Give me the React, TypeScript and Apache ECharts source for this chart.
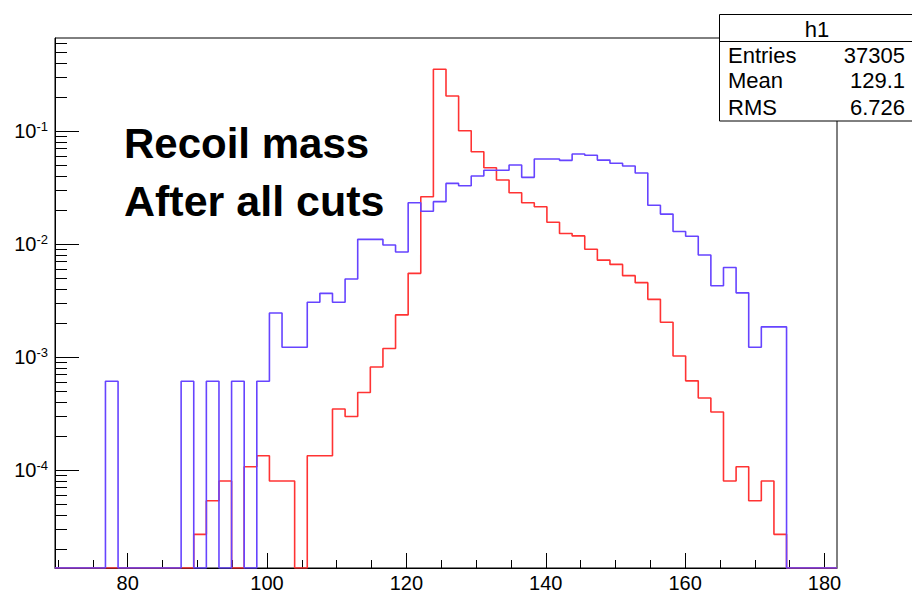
import React, { useEffect, useRef } from 'react';
import * as echarts from 'echarts';

// ---- data ----
const X_MIN = 69.57;
const BIN_WIDTH = 1.81;
const N_BINS = 62;
const Y_MIN_VALUE = 1.36e-5;
const Y_MAX_VALUE = 0.665;

// blue histogram (62 bins)
const blueValues = [
  0, 0, 0, 0, 6.1e-4, 0, 0, 0, 0, 0,
  6.1e-4, 0, 6.1e-4, 0, 6.1e-4, 0, 6.1e-4, 2.45e-3, 1.22e-3, 1.22e-3,
  3.05e-3, 3.66e-3, 3.05e-3, 4.9e-3, 1.1e-2, 1.1e-2, 9.8e-3, 8.5e-3, 2.32e-2, 1.95e-2,
  2.37e-2, 3.44e-2, 3.28e-2, 4.0e-2, 4.49e-2, 4.49e-2, 5.0e-2, 3.89e-2, 5.65e-2, 5.65e-2,
  5.5e-2, 6.25e-2, 6.1e-2, 5.53e-2, 5.18e-2, 4.9e-2, 4.25e-2, 2.2e-2, 1.84e-2, 1.29e-2,
  1.17e-2, 8.0e-3, 4.27e-3, 6.2e-3, 3.7e-3, 1.22e-3, 1.85e-3, 1.85e-3, 0, 0,
  0, 0,
];

// red histogram (62 bins)
const redValues = [
  0, 0, 0, 0, 0, 0, 0, 0, 0, 0,
  0, 2.7e-5, 5.35e-5, 8.0e-5, 0, 1.07e-4, 1.34e-4, 8.0e-5, 8.0e-5, 0,
  1.34e-4, 1.34e-4, 3.47e-4, 2.98e-4, 4.86e-4, 8.17e-4, 1.19e-3, 2.36e-3, 5.5e-3, 2.62e-2,
  0.352, 0.204, 0.1006, 6.56e-2, 4.73e-2, 3.68e-2, 2.84e-2, 2.32e-2, 2.14e-2, 1.56e-2,
  1.24e-2, 1.18e-2, 8.98e-3, 7.2e-3, 6.6e-3, 5.25e-3, 4.55e-3, 3.24e-3, 2.03e-3, 1.02e-3,
  6.16e-4, 4.34e-4, 3.26e-4, 8.0e-5, 1.07e-4, 5.35e-5, 8.0e-5, 2.7e-5, 0, 0,
  0, 0,
];

const xMajorTicks = [80, 100, 120, 140, 160, 180];
const xMinorTicks = [70, 75, 85, 90, 95, 105, 110, 115, 125, 130, 135, 145, 150, 155, 165, 170, 175];
const yDecades = [-5, -4, -3, -2, -1];
const yLabelDecades = [-4, -3, -2, -1];
const yMinorMantissas = [2, 3, 4, 5, 6, 7, 8, 9];

const titleLines = ['Recoil mass', 'After all cuts'];
const statsTitle = 'h1';
const statsLabels = ['Entries', 'Mean', 'RMS'];
const statsValues = ['37305', '129.1', '6.726'];

const BLUE = '#6644ff';
const RED = '#ff3333';
const FONT = '"Liberation Sans", Arial, Helvetica, sans-serif';

const yMinLog = Math.log10(Y_MIN_VALUE);
const yMaxLog = Math.log10(Y_MAX_VALUE);
const xMax = X_MIN + N_BINS * BIN_WIDTH;

const toLog = (v: number) => (v > 0 ? Math.log10(v) : yMinLog);

function stepData(values: number[]) {
  const pts: number[][] = values.map((v, i) => [X_MIN + i * BIN_WIDTH, toLog(v)]);
  pts.push([X_MIN + values.length * BIN_WIDTH, toLog(values[values.length - 1])]);
  return pts;
}

const yMinorTicks: number[] = [];
yDecades.forEach((d) => {
  yMinorMantissas.forEach((m) => {
    const v = d + Math.log10(m);
    if (v >= yMinLog && v <= yMaxLog) yMinorTicks.push(v);
  });
});

export default function App() {
  const ref = useRef<HTMLDivElement>(null);

  useEffect(() => {
    if (!ref.current) return;
    const chart = echarts.init(ref.current, undefined, { renderer: 'svg' });

    const statsX = 719.5;
    const statsRowY = [55.5, 80.5, 107];
    const option: any = {
      animation: false,
      backgroundColor: '#fff',
      grid: {
        left: 55,
        top: 38,
        width: 782,
        height: 530,
        show: true,
        borderColor: '#000',
        borderWidth: 1,
        backgroundColor: 'transparent',
        outerBoundsMode: 'none',
      },
      xAxis: [
        {
          type: 'value',
          min: X_MIN,
          max: xMax,
          position: 'bottom',
          axisLine: { show: true, onZero: false, lineStyle: { color: '#000', width: 1 } },
          axisTick: {
            show: true,
            inside: true,
            length: 15,
            customValues: xMajorTicks,
            lineStyle: { color: '#000', width: 1 },
          },
          axisLabel: {
            show: true,
            customValues: xMajorTicks,
            margin: 5,
            color: '#000',
            fontFamily: FONT,
            fontSize: 20,
          },
          splitLine: { show: false },
        },
        {
          type: 'value',
          min: X_MIN,
          max: xMax,
          position: 'bottom',
          axisLine: { show: false },
          axisTick: {
            show: true,
            inside: true,
            length: 8,
            customValues: xMinorTicks,
            lineStyle: { color: '#000', width: 1 },
          },
          axisLabel: { show: false },
          splitLine: { show: false },
        },
      ],
      yAxis: [
        {
          type: 'value',
          min: yMinLog,
          max: yMaxLog,
          position: 'left',
          axisLine: { show: true, onZero: false, lineStyle: { color: '#000', width: 1 } },
          axisTick: {
            show: true,
            inside: true,
            length: 24,
            customValues: yLabelDecades,
            lineStyle: { color: '#000', width: 1 },
          },
          axisLabel: {
            show: true,
            customValues: yLabelDecades,
            margin: 7,
            formatter: (v: number) => `{b|10}{s|${Math.round(v)}}`,
            rich: {
              b: { fontFamily: FONT, fontSize: 20, color: '#000', lineHeight: 22 },
              s: { fontFamily: FONT, fontSize: 13, color: '#000', lineHeight: 14, verticalAlign: 'top' },
            },
          },
          splitLine: { show: false },
        },
        {
          type: 'value',
          min: yMinLog,
          max: yMaxLog,
          position: 'left',
          axisLine: { show: false },
          axisTick: {
            show: true,
            inside: true,
            length: 12,
            customValues: yMinorTicks,
            lineStyle: { color: '#000', width: 1 },
          },
          axisLabel: { show: false },
          splitLine: { show: false },
        },
      ],
      series: [
        {
          type: 'line',
          name: 'red',
          step: 'end',
          data: stepData(redValues),
          xAxisIndex: 0,
          yAxisIndex: 0,
          symbol: 'none',
          lineStyle: { color: RED, width: 1.6 },
          z: 3,
        },
        {
          type: 'line',
          name: 'blue',
          step: 'end',
          data: stepData(blueValues),
          xAxisIndex: 0,
          yAxisIndex: 0,
          symbol: 'none',
          lineStyle: { color: BLUE, width: 1.6 },
          z: 4,
        },
      ],
      graphic: [
        {
          type: 'text',
          z: 100,
          style: {
            text: titleLines[0],
            x: 124,
            y: 143.5,
            verticalAlign: 'middle',
            align: 'left',
            fill: '#000',
            font: `bold 42px ${FONT}`,
          },
        },
        {
          type: 'text',
          z: 100,
          style: {
            text: titleLines[1],
            x: 124,
            y: 200.5,
            verticalAlign: 'middle',
            align: 'left',
            fill: '#000',
            font: `bold 43px ${FONT}`,
          },
        },
        {
          type: 'rect',
          z: 100,
          shape: { x: statsX, y: 14.5, width: 220, height: 106.5 },
          style: { fill: '#fff', stroke: '#000', lineWidth: 1 },
        },
        {
          type: 'line',
          z: 101,
          shape: { x1: statsX, y1: 41.5, x2: 920, y2: 41.5 },
          style: { stroke: '#000', lineWidth: 1 },
        },
        {
          type: 'text',
          z: 101,
          style: {
            text: statsTitle,
            x: 817,
            y: 29.5,
            align: 'center',
            verticalAlign: 'middle',
            fill: '#000',
            font: `22px ${FONT}`,
          },
        },
        ...statsLabels.map((t, i) => ({
          type: 'text',
          z: 101,
          style: {
            text: t,
            x: 728,
            y: statsRowY[i],
            align: 'left',
            verticalAlign: 'middle',
            fill: '#000',
            font: `22px ${FONT}`,
          },
        })),
        ...statsValues.map((t, i) => ({
          type: 'text',
          z: 101,
          style: {
            text: t,
            x: 905,
            y: statsRowY[i],
            align: 'right',
            verticalAlign: 'middle',
            fill: '#000',
            font: `22px ${FONT}`,
          },
        })),
      ],
    };

    chart.setOption(option);
    return () => {
      chart.dispose();
    };
  }, []);

  return (
    <div
      ref={ref}
      style={{ position: 'fixed', left: 0, top: 0, width: 912, height: 595, background: '#fff' }}
    />
  );
}
